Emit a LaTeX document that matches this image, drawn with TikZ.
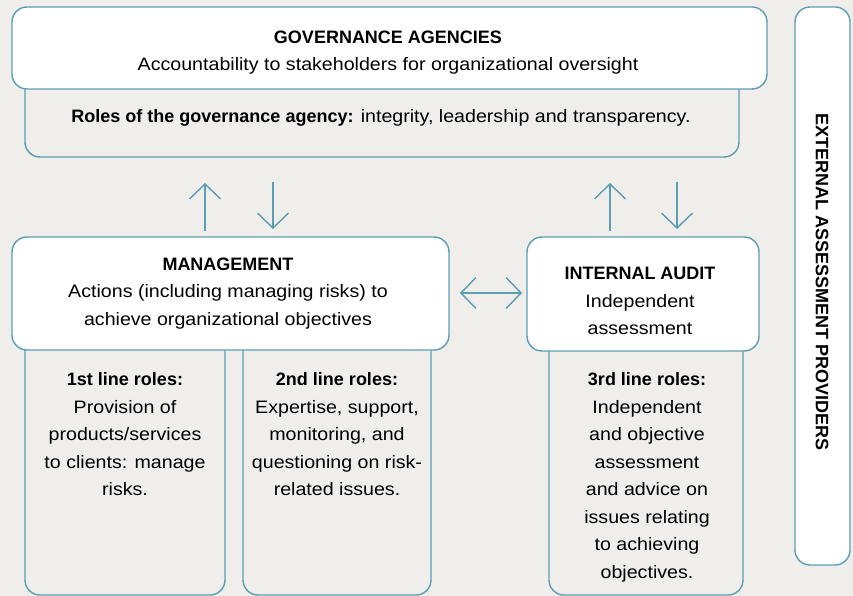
\documentclass[tikz,border=0pt]{standalone}
\usepackage{fontspec}
\setmainfont{Liberation Sans}[FakeStretch=1.09,BoldFeatures={FakeStretch=1.0}]
\usetikzlibrary{arrows.meta}
\definecolor{bg}{HTML}{EFEEEB}
\definecolor{edge}{HTML}{5B9DB2}
\begin{document}
\begin{tikzpicture}[x=1pt,y=-1pt,
  whitebox/.style={draw=edge,line width=1.4pt,fill=white,rounded corners=15pt},
  graybox/.style={draw=edge,line width=1.4pt,fill=bg,rounded corners=15pt},
  txt/.style={font=\fontsize{18}{27.5}\selectfont,align=center,inner sep=0pt},
  tip/.style={-{Straight Barb[length=15pt,width=31pt,line width=1.4pt]}},
  arr/.style={draw=edge,line width=1.4pt,tip},
  darr/.style={draw=edge,line width=1.4pt,{Straight Barb[length=15pt,width=31pt,line width=1.4pt]}-{Straight Barb[length=15pt,width=31pt,line width=1.4pt]}}]
\fill[bg] (0,0) rectangle (853,596);
\useasboundingbox (0,0) rectangle (853,596);
% governance
\draw[graybox] (25,40) rectangle (739,157);
\draw[whitebox] (12,7) rectangle (767,89);
\node[txt] (gov) at (388,37) {\textbf{GOVERNANCE AGENCIES}};
\node[txt] (govd) at (388,65.5) {Accountability to stakeholders for organizational oversight};
\node[txt] (govr) at (381,118) {\textbf{Roles of the governance agency:} integrity, leadership and transparency.};
% lines
\draw[graybox] (25,300) rectangle (225,595);
\draw[graybox] (243,300) rectangle (431,595);
\draw[graybox] (549,300) rectangle (743,595);
\draw[whitebox] (12,237) rectangle (449,350);
\draw[whitebox] (527,237) rectangle (759,351);
\node[txt] (mg) at (228,264.5) {\textbf{MANAGEMENT}};
\node[txt] (mgd) at (228,307) {Actions (including managing risks) to\\achieve organizational objectives};
\node[txt] (ia) at (640,273) {\textbf{INTERNAL AUDIT}};
\node[txt] (iad) at (640,314.5) {Independent\\assessment};
\node[txt,anchor=north] (l1) at (125,372.5) {\textbf{1st line roles:}\\Provision of\\products/services\\to clients: manage\\risks.};
\node[txt,anchor=north] (l2) at (337,372.5) {\textbf{2nd line roles:}\\Expertise, support,\\monitoring, and\\questioning on risk-\\related issues.};
\node[txt,anchor=north] (l3) at (647,372.5) {\textbf{3rd line roles:}\\Independent\\and objective\\assessment\\and advice on\\issues relating\\to achieving\\objectives.};
% external
\draw[whitebox] (795,7) rectangle (850,565);
\node[txt,rotate=-90] (ext) at (822,282) {\textbf{EXTERNAL ASSESSMENT PROVIDERS}};
% arrows
\coordinate (a1s) at (205,231); \coordinate (a1e) at (205,183);
\coordinate (a2s) at (273,182); \coordinate (a2e) at (273,229);
\coordinate (a3s) at (610,231); \coordinate (a3e) at (610,183);
\coordinate (a4s) at (677,182); \coordinate (a4e) at (677,229);
\coordinate (d1) at (460,293); \coordinate (d2) at (522,293);
\draw[arr] (a1s) -- (a1e);
\draw[arr] (a2s) -- (a2e);
\draw[arr] (a3s) -- (a3e);
\draw[arr] (a4s) -- (a4e);
\draw[darr] (d1) -- (d2);
\end{tikzpicture}
\end{document}
